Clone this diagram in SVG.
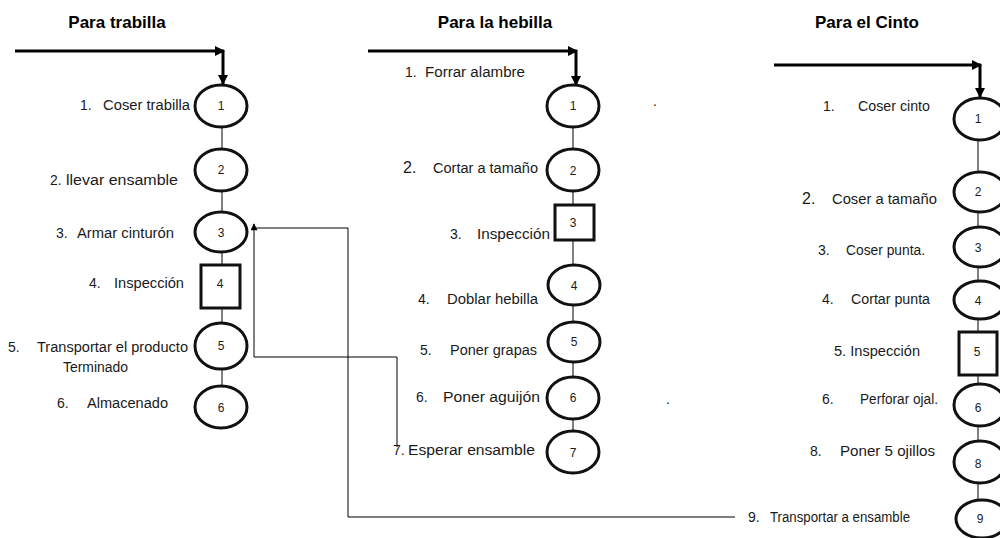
<svg xmlns="http://www.w3.org/2000/svg" width="1000" height="538" viewBox="0 0 1000 538">
<defs>
<marker id="bigArrow" viewBox="0 0 10 10" refX="9" refY="5" markerWidth="10" markerHeight="10" orient="auto" markerUnits="userSpaceOnUse"><path d="M0,0 L10,5 L0,10 Z" fill="#000"/></marker>
<marker id="smallArrow" viewBox="0 0 10 10" refX="9" refY="5" markerWidth="8" markerHeight="7" orient="auto" markerUnits="userSpaceOnUse"><path d="M0,0 L10,5 L0,10 Z" fill="#000"/></marker>
<style>
.title{font-family:"Liberation Sans",Arial,sans-serif;font-weight:bold;font-size:17px;fill:#000;text-anchor:middle}
.lbl{font-family:"Liberation Sans",Arial,sans-serif;font-size:14px;fill:#1a1a1a}
.num{font-family:"Liberation Sans",Arial,sans-serif;font-size:12px;fill:#1a1a1a;text-anchor:middle}
.op{fill:#fff;stroke:#111;stroke-width:3}
.thick{stroke:#000;stroke-width:3;fill:none}
.thin{stroke:#000;stroke-width:1;fill:none}
</style>
</defs>
<rect width="1000" height="538" fill="#fff"/>

<text class="title" x="117" y="28">Para trabilla</text>
<text class="title" x="495" y="28">Para la hebilla</text>
<text class="title" x="867" y="28">Para el Cinto</text>

<g id="connectors">
<line class="thick" x1="15" y1="51" x2="224" y2="51" marker-end="url(#bigArrow)"/>
<line class="thick" x1="223" y1="50" x2="223" y2="84" marker-end="url(#bigArrow)"/>
<line class="thick" x1="368" y1="51" x2="577" y2="51" marker-end="url(#bigArrow)"/>
<line class="thick" x1="576" y1="50" x2="576" y2="85" marker-end="url(#bigArrow)"/>
<line class="thick" x1="774" y1="65" x2="981" y2="65" marker-end="url(#bigArrow)"/>
<line class="thick" x1="980" y1="64" x2="980" y2="97" marker-end="url(#bigArrow)"/>

<path class="thin" d="M222,127 V150 M222,191 V212 M222,253 V265 M222,308 V324 M222,369 V386"/>
<path class="thin" d="M573,127 V149 M573,191 V205 M573,240 V265 M573,305 V322 M573,362 V377 M573,419 V431"/>
<path class="thin" d="M978,140 V172 M978,212 V227 M978,267 V281 M978,319 V332 M978,375 V384 M978,426 V441 M978,483 V499"/>

<path class="thin" d="M735,517 H348 V228 H256"/>
<path class="thin" d="M397,447 V357 H254 V224" marker-end="url(#smallArrow)"/>
</g>

<g id="trabilla-1"><ellipse class="op" cx="221" cy="106" rx="26" ry="21"/><text class="num" x="221" y="110">1</text><text class="lbl" x="80" y="110">1.</text><text class="lbl" x="103" y="110" textLength="87" lengthAdjust="spacingAndGlyphs">Coser trabilla</text></g>
<g id="trabilla-2"><ellipse class="op" cx="221" cy="170" rx="26" ry="21"/><text class="num" x="221" y="174">2</text><text class="lbl" x="50" y="185">2.</text><text class="lbl" x="66" y="185" textLength="112" lengthAdjust="spacingAndGlyphs">llevar ensamble</text></g>
<g id="trabilla-3"><ellipse class="op" cx="221" cy="232" rx="26" ry="20"/><text class="num" x="221" y="237">3</text><text class="lbl" x="56" y="238">3.</text><text class="lbl" x="77" y="238" textLength="97" lengthAdjust="spacingAndGlyphs">Armar cinturón</text></g>
<g id="trabilla-4"><rect class="op" x="201" y="265" width="39" height="43"/><text class="num" x="220" y="288">4</text><text class="lbl" x="89" y="288">4.</text><text class="lbl" x="114" y="288" textLength="70" lengthAdjust="spacingAndGlyphs">Inspección</text></g>
<g id="trabilla-5"><ellipse class="op" cx="221" cy="346" rx="26" ry="23"/><text class="num" x="221" y="350">5</text><text class="lbl" x="8" y="352">5.</text><text class="lbl" x="37" y="352" textLength="151" lengthAdjust="spacingAndGlyphs">Transportar el producto</text><text class="lbl" x="63" y="372" textLength="65" lengthAdjust="spacingAndGlyphs">Terminado</text></g>
<g id="trabilla-6"><ellipse class="op" cx="221" cy="407" rx="26" ry="21"/><text class="num" x="221" y="412">6</text><text class="lbl" x="57" y="408">6.</text><text class="lbl" x="87" y="408" textLength="81" lengthAdjust="spacingAndGlyphs">Almacenado</text></g>

<g id="hebilla-1"><ellipse class="op" cx="573" cy="106" rx="26" ry="21"/><text class="num" x="573" y="110">1</text><text class="lbl" x="405" y="77">1.</text><text class="lbl" x="425" y="77" textLength="100" lengthAdjust="spacingAndGlyphs">Forrar alambre</text></g>
<g id="hebilla-2"><ellipse class="op" cx="573" cy="170" rx="26" ry="21"/><text class="num" x="573" y="175">2</text><text class="lbl" x="403" y="173" style="font-size:16px">2.</text><text class="lbl" x="433" y="173" textLength="105" lengthAdjust="spacingAndGlyphs">Cortar a tamaño</text></g>
<g id="hebilla-3"><rect class="op" x="555" y="205" width="39" height="35"/><text class="num" x="573" y="227">3</text><text class="lbl" x="450" y="239">3.</text><text class="lbl" x="477" y="239" textLength="73" lengthAdjust="spacingAndGlyphs">Inspección</text></g>
<g id="hebilla-4"><ellipse class="op" cx="574" cy="285" rx="26" ry="20"/><text class="num" x="574" y="290">4</text><text class="lbl" x="418" y="304">4.</text><text class="lbl" x="447" y="304" textLength="91" lengthAdjust="spacingAndGlyphs">Doblar hebilla</text></g>
<g id="hebilla-5"><ellipse class="op" cx="574" cy="342" rx="26" ry="20"/><text class="num" x="574" y="346">5</text><text class="lbl" x="420" y="355">5.</text><text class="lbl" x="450" y="355" textLength="87" lengthAdjust="spacingAndGlyphs">Poner grapas</text></g>
<g id="hebilla-6"><ellipse class="op" cx="573" cy="398" rx="26" ry="21"/><text class="num" x="573" y="402">6</text><text class="lbl" x="416" y="402">6.</text><text class="lbl" x="443" y="402" textLength="97" lengthAdjust="spacingAndGlyphs">Poner aguijón</text></g>
<g id="hebilla-7"><ellipse class="op" cx="573" cy="452" rx="26" ry="21"/><text class="num" x="573" y="457">7</text><text class="lbl" x="393" y="455">7.</text><text class="lbl" x="408" y="455" textLength="127" lengthAdjust="spacingAndGlyphs">Esperar ensamble</text></g>
<text class="lbl" x="653" y="106">.</text>
<text class="lbl" x="666" y="404">.</text>

<g id="cinto-1"><ellipse class="op" cx="980" cy="119" rx="26" ry="21"/><text class="num" x="978" y="123">1</text><text class="lbl" x="823" y="111">1.</text><text class="lbl" x="858" y="111" textLength="72" lengthAdjust="spacingAndGlyphs">Coser cinto</text></g>
<g id="cinto-2"><ellipse class="op" cx="980" cy="192" rx="26" ry="20"/><text class="num" x="978" y="196">2</text><text class="lbl" x="802" y="204" style="font-size:16px">2.</text><text class="lbl" x="832" y="204" textLength="105" lengthAdjust="spacingAndGlyphs">Coser a tamaño</text></g>
<g id="cinto-3"><ellipse class="op" cx="980" cy="247" rx="26" ry="20"/><text class="num" x="978" y="252">3</text><text class="lbl" x="818" y="255">3.</text><text class="lbl" x="846" y="255" textLength="79" lengthAdjust="spacingAndGlyphs">Coser punta.</text></g>
<g id="cinto-4"><ellipse class="op" cx="980" cy="300" rx="26" ry="19"/><text class="num" x="978" y="305">4</text><text class="lbl" x="822" y="304">4.</text><text class="lbl" x="851" y="304" textLength="79" lengthAdjust="spacingAndGlyphs">Cortar punta</text></g>
<g id="cinto-5"><rect class="op" x="959" y="332" width="38" height="43"/><text class="num" x="977" y="356">5</text><text class="lbl" x="834" y="356" textLength="86" lengthAdjust="spacingAndGlyphs">5. Inspección</text></g>
<g id="cinto-6"><ellipse class="op" cx="980" cy="405" rx="26" ry="21"/><text class="num" x="978" y="412">6</text><text class="lbl" x="822" y="404">6.</text><text class="lbl" x="860" y="404" textLength="78" lengthAdjust="spacingAndGlyphs">Perforar ojal.</text></g>
<g id="cinto-8"><ellipse class="op" cx="980" cy="462" rx="26" ry="21"/><text class="num" x="978" y="468">8</text><text class="lbl" x="810" y="456">8.</text><text class="lbl" x="840" y="456" textLength="95" lengthAdjust="spacingAndGlyphs">Poner 5 ojillos</text></g>
<g id="cinto-9"><ellipse class="op" cx="982" cy="519" rx="26" ry="19"/><text class="num" x="980" y="523">9</text><text class="lbl" x="748" y="522">9.</text><text class="lbl" x="770" y="522" textLength="140" lengthAdjust="spacingAndGlyphs">Transportar a ensamble</text></g>
</svg>
